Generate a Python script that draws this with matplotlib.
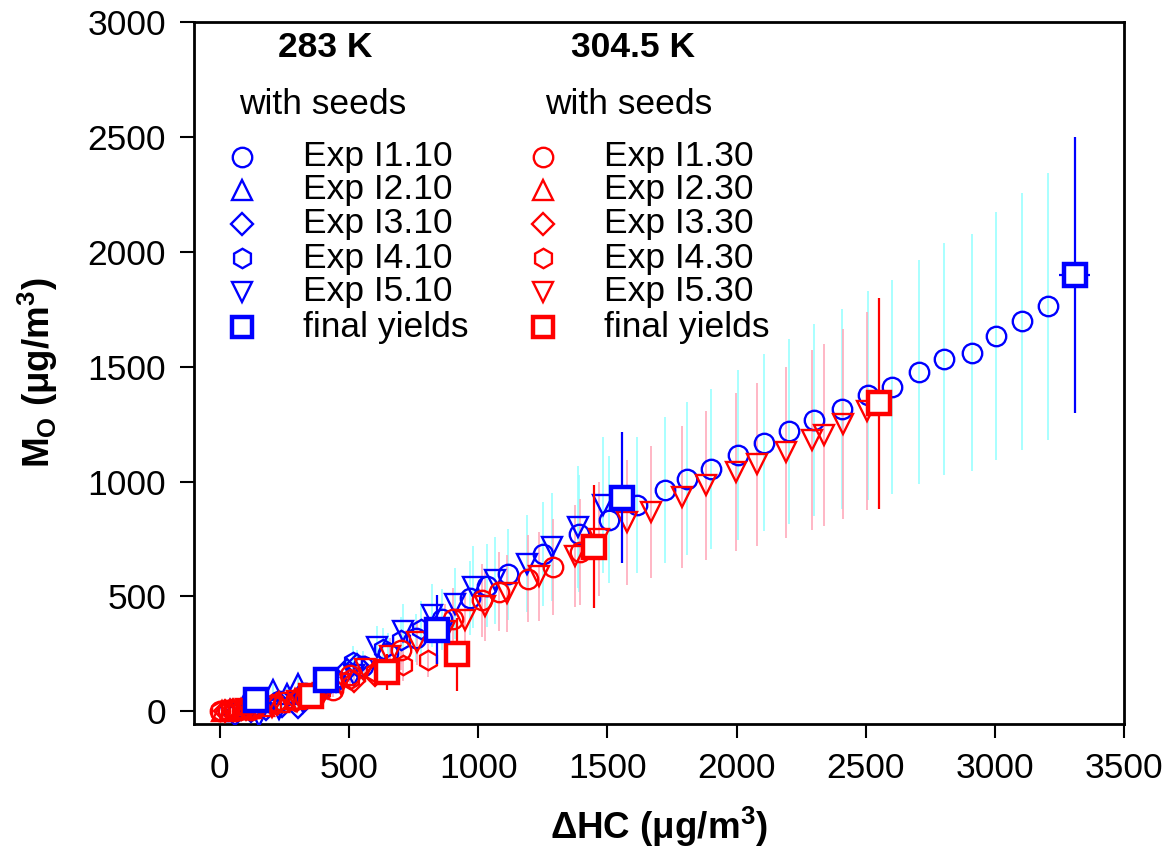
import matplotlib
matplotlib.use('Agg')
import matplotlib.pyplot as plt

plt.rcParams['font.family'] = ['Liberation Sans', 'DejaVu Sans']

# --- data (ug/m3) ---
# 283 K, with seeds
i1_10_x = [30, 120, 230, 330, 440, 553, 650, 760, 860, 968, 1036, 1117, 1252, 1389, 1505, 1614,
           1722, 1810, 1900, 2005, 2107, 2203, 2300, 2410, 2508, 2603, 2708, 2804, 2911, 3003,
           3105, 3204]
i1_10_y = [0, 20, 45, 80, 130, 196, 255, 320, 400, 493, 547, 596, 684, 773, 834, 897,
           962, 1013, 1054, 1116, 1170, 1218, 1269, 1317, 1376, 1411, 1477, 1532, 1561, 1635,
           1697, 1763]
i2_10_x = [40, 90, 150, 206, 260, 303]
i2_10_y = [5, 20, 45, 91, 75, 120]
i3_10_x = [60, 120, 180, 240, 303, 380, 450, 491, 530]
i3_10_y = [-10, 0, 10, 25, 19, 90, 130, 178, 200]
i4_10_x = [380, 450, 516, 633, 700, 780]
i4_10_y = [90, 140, 215, 273, 310, 360]
i5_10_x = [150, 230, 320, 420, 520, 607, 710, 820, 910, 981, 1065, 1188, 1285, 1388, 1485]
i5_10_y = [-20, 10, 40, 100, 160, 280, 350, 418, 469, 541, 570, 643, 716, 803, 897]
fin_10_x = [140, 411, 842, 1555, 3310]
fin_10_y = [51, 135, 356, 930, 1900]
fin_10_err = [15, 30, 150, 285, 600]
fin_10_xerr = [0, 0, 0, 0, 60]

# 304.5 K, with seeds
i1_30_x = [0, 30, 60, 90, 120, 250, 330, 439, 504, 703, 904, 1014, 1079, 1194, 1291, 1394]
i1_30_y = [0, 5, 0, 10, 5, 40, 60, 91, 157, 266, 404, 483, 520, 578, 628, 694]
i2_30_x = [10, 40, 80, 120, 170, 230, 290]
i2_30_y = [0, 5, 10, 15, 25, 40, 55]
i3_30_x = [20, 50, 100, 150, 220, 300, 400, 520, 600]
i3_30_y = [0, 5, 10, 20, 30, 50, 100, 130, 160]
i4_30_x = [0, 40, 80, 130, 200, 290, 390, 503, 600, 710, 807]
i4_30_y = [0, 10, 5, 15, 30, 45, 90, 142, 170, 200, 222]
i5_30_x = [100, 200, 300, 400, 470, 563, 660, 762, 870, 950, 1026, 1111, 1237, 1375, 1466,
           1575, 1668, 1789, 1880, 1997, 2081, 2191, 2293, 2340, 2413, 2506]
i5_30_y = [10, 20, 45, 80, 120, 186, 240, 300, 350, 396, 457, 513, 587, 676, 752,
           822, 867, 933, 984, 1042, 1075, 1127, 1181, 1203, 1250, 1308]
fin_30_x = [353, 647, 919, 1448, 2551]
fin_30_y = [66, 171, 248, 716, 1340]
fin_30_err = [20, 80, 160, 267, 460]

blue_series = [(i1_10_x, i1_10_y, 'o', 'Exp I1.10'),
               (i2_10_x, i2_10_y, '^', 'Exp I2.10'),
               (i3_10_x, i3_10_y, 'D', 'Exp I3.10'),
               (i4_10_x, i4_10_y, 'h', 'Exp I4.10'),
               (i5_10_x, i5_10_y, 'v', 'Exp I5.10')]
red_series = [(i1_30_x, i1_30_y, 'o', 'Exp I1.30'),
              (i2_30_x, i2_30_y, '^', 'Exp I2.30'),
              (i3_30_x, i3_30_y, 'D', 'Exp I3.30'),
              (i4_30_x, i4_30_y, 'h', 'Exp I4.30'),
              (i5_30_x, i5_30_y, 'v', 'Exp I5.30')]

rel_err = 0.33
msize = {'o': 14, '^': 14, 'D': 11, 'h': 14, 'v': 14}
fs = 25.5

fig = plt.figure(figsize=(11.72, 8.56), dpi=100)
ax = fig.add_axes([194 / 1172, 1 - 724 / 856, 930 / 1172, 702 / 856])


def draw_group(series, color, light):
    for x, y, m, lab in series:
        err = [abs(v) * rel_err for v in y]
        ax.errorbar(x, y, yerr=err, fmt='none', ecolor=light, elinewidth=1.2, zorder=1)
    for x, y, m, lab in series:
        ax.plot(x, y, linestyle='none', marker=m, ms=msize[m], mfc='none', mec=color,
                mew=1.7, zorder=3)


draw_group(blue_series, 'blue', '#99ffff')
draw_group(red_series, 'red', '#ffaabb')

ax.errorbar(fin_30_x, fin_30_y, yerr=fin_30_err, fmt='s', ms=16, mfc='white', mec='red',
            mew=3.2, ecolor='red', elinewidth=1.6, capsize=0, zorder=5)
ax.errorbar(fin_10_x, fin_10_y, yerr=fin_10_err, xerr=fin_10_xerr, fmt='s', ms=16,
            mfc='white', mec='blue', mew=3.2, ecolor='blue', elinewidth=1.6, capsize=0, zorder=5)

ax.set_xlim(-100, 3500)
ax.set_ylim(-55, 3000)
ax.set_xticks(range(0, 3501, 500))
ax.set_yticks(range(0, 3001, 500))
ax.tick_params(labelsize=fs, length=10, width=1.5, direction='out', pad=10)
for s in ax.spines.values():
    s.set_linewidth(2)

ax.set_xlabel('ΔHC (μg/m$^\\mathregular{3}$)', fontsize=26.5, fontweight='bold', labelpad=14)
ax.set_ylabel('M$_\\mathregular{O}$ (μg/m$^\\mathregular{3}$)', fontsize=26.5,
              fontweight='bold', labelpad=20)

# hand-made legend, two columns
rows = [0.8077, 0.7607, 0.7123, 0.6638, 0.6154, 0.5655]
for col, series, color, temp, mx, tx, cx in [
        (0, blue_series, 'blue', '283 K', 0.0516, 0.117, 0.141),
        (1, red_series, 'red', '304.5 K', 0.375, 0.441, 0.472)]:
    ax.text(cx, 0.963, temp, transform=ax.transAxes, ha='center', va='center',
            fontsize=fs, fontweight='bold')
    ax.text(cx - 0.003 if col == 0 else cx - 0.005, 0.882, 'with seeds',
            transform=ax.transAxes, ha='center', va='center', fontsize=fs)
    entries = [(m, lab) for _, _, m, lab in series] + [('s', 'final yields')]
    for (m, lab), ry in zip(entries, rows):
        if m == 's':
            ax.plot([mx], [ry], marker='s', ms=14, mfc='none', mec=color, mew=3.2,
                    transform=ax.transAxes, clip_on=False)
        else:
            ax.plot([mx], [ry], marker=m, ms=msize[m], mfc='none', mec=color, mew=1.7,
                    transform=ax.transAxes, clip_on=False)
        ax.text(tx, ry, lab, transform=ax.transAxes, ha='left', va='center', fontsize=fs)

fig.savefig('out.png', dpi=100)
